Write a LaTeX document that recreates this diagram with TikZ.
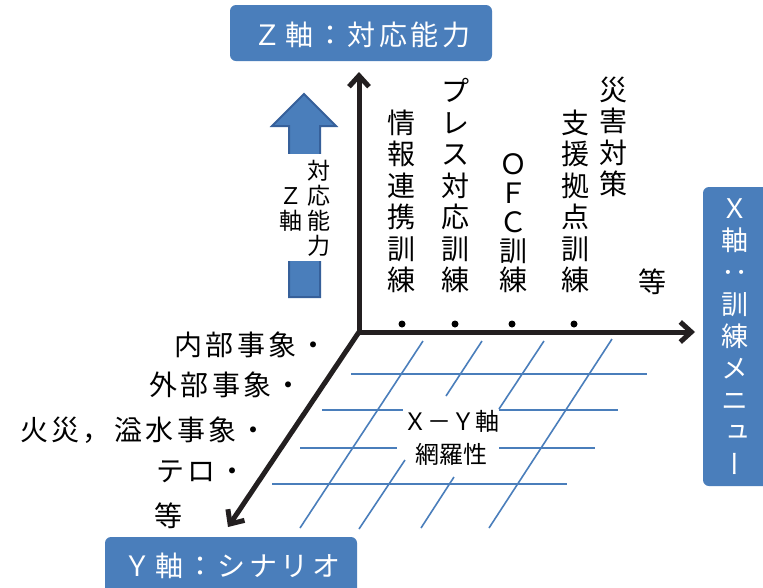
\documentclass[tikz,border=0pt]{standalone}
\usepackage{fontspec}
\newfontfamily\jp{Noto Sans CJK JP}
\newfontfamily\jpv[RawFeature=+vert]{Noto Sans CJK JP}
\usetikzlibrary{arrows.meta}
\definecolor{boxblue}{HTML}{4A7EBB}
\definecolor{gridblue}{HTML}{4A7EBB}
\definecolor{axisblack}{HTML}{231F20}
\definecolor{arrowedge}{HTML}{36609A}
\begin{document}
\begin{tikzpicture}[x=1pt,y=-1pt,
  axis/.style={line width=5pt, color=axisblack, -{Straight Barb[length=11pt,width=20pt]}},
  gridline/.style={line width=1.6pt, color=gridblue},
  boxfill/.style={fill=boxblue, rounded corners=6pt},
  boxtext/.style={text=white, inner sep=0, font={\jp\fontsize{28}{30}\selectfont\addfontfeature{LetterSpace=12}}},
  vcol/.style={font={\jp\fontsize{28}{31.5}\selectfont}, align=center, inner sep=0, anchor=south},
  sidelabel/.style={font={\jp\fontsize{28}{30}\selectfont\addfontfeature{LetterSpace=12}}, inner sep=0, anchor=east},
  small/.style={font={\jp\fontsize{23}{25}\selectfont}, align=center, inner sep=0},
  dot/.style={fill=black}
]
\useasboundingbox (0,0) rectangle (763,587);
\fill[white] (0,0) rectangle (763,587);

% boxes
\fill[boxfill] (230,5) rectangle (492,61);
\node[boxtext] (zlabel) at (362,35) {Ｚ軸：対応能力};
\fill[boxfill] (105,537) rectangle (357,600);
\node[boxtext] (ylabel) at (232,566) {Ｙ軸：シナリオ};
\fill[boxfill] (703,187) rectangle (780,486);
\node[font={\jpv\fontsize{27}{32}\selectfont}, text=white, align=center, inner sep=0, anchor=north] (xlabel) at (735,198)
  {Ｘ\\軸\\：\\訓\\練\\メ\\ニ\\ュ\\ー};

% grid
\draw[gridline] (351,374) -- (647,374);
\draw[gridline] (322,410) -- (403,410) (499,410) -- (618,410);
\draw[gridline] (300,448) -- (397,448) (499,448) -- (595,448);
\draw[gridline] (272,484) -- (567,484);
\draw[gridline] (423,341) -- (300,528);
\draw[gridline] (482,341) -- (446,396) (405,460) -- (359,529);
\draw[gridline] (544,341) -- (499,409) (454,477) -- (421,528);
\draw[gridline] (612,339) -- (489,528);
\node[font={\jp\fontsize{24}{33}\selectfont}, align=center, inner sep=0] (xy) at (451,438) {Ｘ－Ｙ軸\\網羅性};

% axes
\coordinate (O) at (359,332);
\coordinate (ztip) at (359,72);
\coordinate (xtip) at (695,332);
\coordinate (ytip) at (228,527);
\draw[axis, line join=round] (O) -- (ztip);
\draw[axis, line join=round] (O) -- (xtip);
\draw[axis, line join=round] (O) -- (ytip);

% block arrow
\filldraw[fill=boxblue, draw=arrowedge, line width=2pt, line join=miter]
  (272,126) -- (304,94) -- (336,126) -- (320,126) -- (320,297) -- (289,297) -- (289,126) -- cycle;
\fill[white] (283,154) rectangle (328,261);
\node[small] (zt1) at (319,208) {対\\応\\能\\力};
\node[small] (zt2) at (291,209) {Ｚ\\軸};

% X-axis items
\node[vcol] (c1) at (401,293) {情\\報\\連\\携\\訓\\練};
\node[vcol] (c2) at (455,293) {プ\\レ\\ス\\対\\応\\訓\\練};
\node[vcol, font={\jp\fontsize{28}{29}\selectfont}] (c3) at (513,293) {Ｏ\\Ｆ\\Ｃ\\訓\\練};
\node[vcol] (c4) at (575,293) {支\\援\\拠\\点\\訓\\練};
\node[vcol] (c5) at (613,197) {災\\害\\対\\策};
\node[font={\jp\fontsize{28}{30}\selectfont}, inner sep=0] (c6) at (652,282) {等};
\fill[dot] (402,324) circle[radius=3.5pt];
\fill[dot] (455,324) circle[radius=3.5pt];
\fill[dot] (512,324) circle[radius=3.5pt];
\fill[dot] (574,324) circle[radius=3.5pt];

% Y-axis items
\node[sidelabel] (s1) at (328,345) {内部事象・};
\node[sidelabel] (s2) at (303,385) {外部事象・};
\node[sidelabel] (s3) at (268,430) {火災，溢水事象・};
\node[sidelabel] (s4) at (247,472) {テロ・};
\node[font={\jp\fontsize{28}{30}\selectfont}, inner sep=0] (s5) at (168,516) {等};
\end{tikzpicture}
\end{document}
